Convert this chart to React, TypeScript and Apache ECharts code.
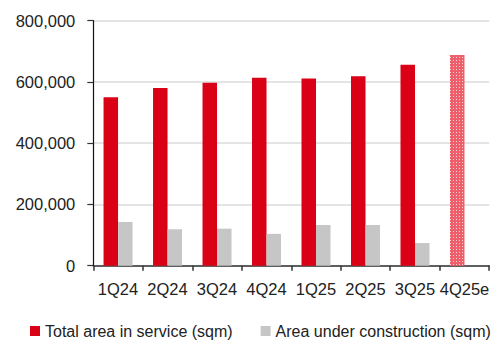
import React, { useEffect, useRef } from "react";
import * as echarts from "echarts";

// Quarterly floor area, square metres
const quarters = ["1Q24", "2Q24", "3Q24", "4Q24", "1Q25", "2Q25", "3Q25", "4Q25e"];
const areaInService = [550000, 580000, 597000, 614000, 611000, 619000, 656000, 688000];
const areaUnderConstruction = [143000, 119000, 121000, 104000, 133000, 133000, 74000, null];
const yTicks = { min: 0, max: 800000, interval: 200000 };

const RED = "#da0015";
const GREY = "#c6c6c6";
const FONT = "'Liberation Sans', Arial, sans-serif";
const FONT_SIZE = 16.5;

export default function App() {
  const ref = useRef<HTMLDivElement>(null);

  useEffect(() => {
    if (!ref.current) return;
    const chart = echarts.init(ref.current, undefined, { renderer: "svg" });

    // The estimate quarter is drawn with a fine checkered fill
    const serviceData = areaInService.map((v, i) =>
      i === quarters.length - 1
        ? {
            value: v,
            itemStyle: {
              color: "#ee5f6c",
              decal: {
                symbol: "rect",
                symbolSize: 1,
                color: "rgba(255,255,255,0.7)",
                dashArrayX: [1, 2],
                dashArrayY: [1, 2],
                rotation: 0,
              },
            },
          }
        : v
    );

    chart.setOption({
      animation: false,
      textStyle: { fontFamily: FONT },
      grid: { left: 93.3, top: 20.7, width: 400, height: 245, containLabel: false },
      legend: {
        left: 30,
        top: 322,
        width: 700,
        padding: 0,
        icon: "rect",
        itemWidth: 10,
        itemHeight: 10,
        itemGap: 28,
        textStyle: { fontFamily: FONT, fontSize: 16, color: "#222", lineHeight: 18 },
        data: ["Total area in service (sqm)", "Area under construction (sqm)"],
      },
      xAxis: {
        type: "category",
        data: quarters,
        axisLine: { show: true, lineStyle: { color: "#333", width: 1.5 } },
        axisTick: { show: true, length: 5, lineStyle: { color: "#333", width: 1.5 } },
        axisLabel: { fontFamily: FONT, fontSize: FONT_SIZE, color: "#222", margin: 15, interval: 0 },
      },
      yAxis: {
        type: "value",
        min: yTicks.min,
        max: yTicks.max,
        interval: yTicks.interval,
        axisLine: { show: true, lineStyle: { color: "#111", width: 1.2 } },
        axisTick: { show: true, length: 6, lineStyle: { color: "#333", width: 1.2 } },
        splitLine: { show: true, lineStyle: { color: "#e4e4e4", width: 2 } },
        axisLabel: {
          fontFamily: FONT,
          fontSize: FONT_SIZE,
          color: "#222",
          margin: 18,
          formatter: (v: number) => v.toLocaleString("en-US"),
        },
      },
      series: [
        {
          name: "Total area in service (sqm)",
          type: "bar",
          data: serviceData,
          barWidth: 14.5,
          barGap: "0%",
          itemStyle: { color: RED },
        },
        {
          name: "Area under construction (sqm)",
          type: "bar",
          data: areaUnderConstruction,
          barWidth: 14.5,
          itemStyle: { color: GREY },
        },
      ],
    });

    return () => chart.dispose();
  }, []);

  return (
    <div
      ref={ref}
      style={{ position: "fixed", left: 0, top: 0, width: 492, height: 342, background: "#fff" }}
    />
  );
}
